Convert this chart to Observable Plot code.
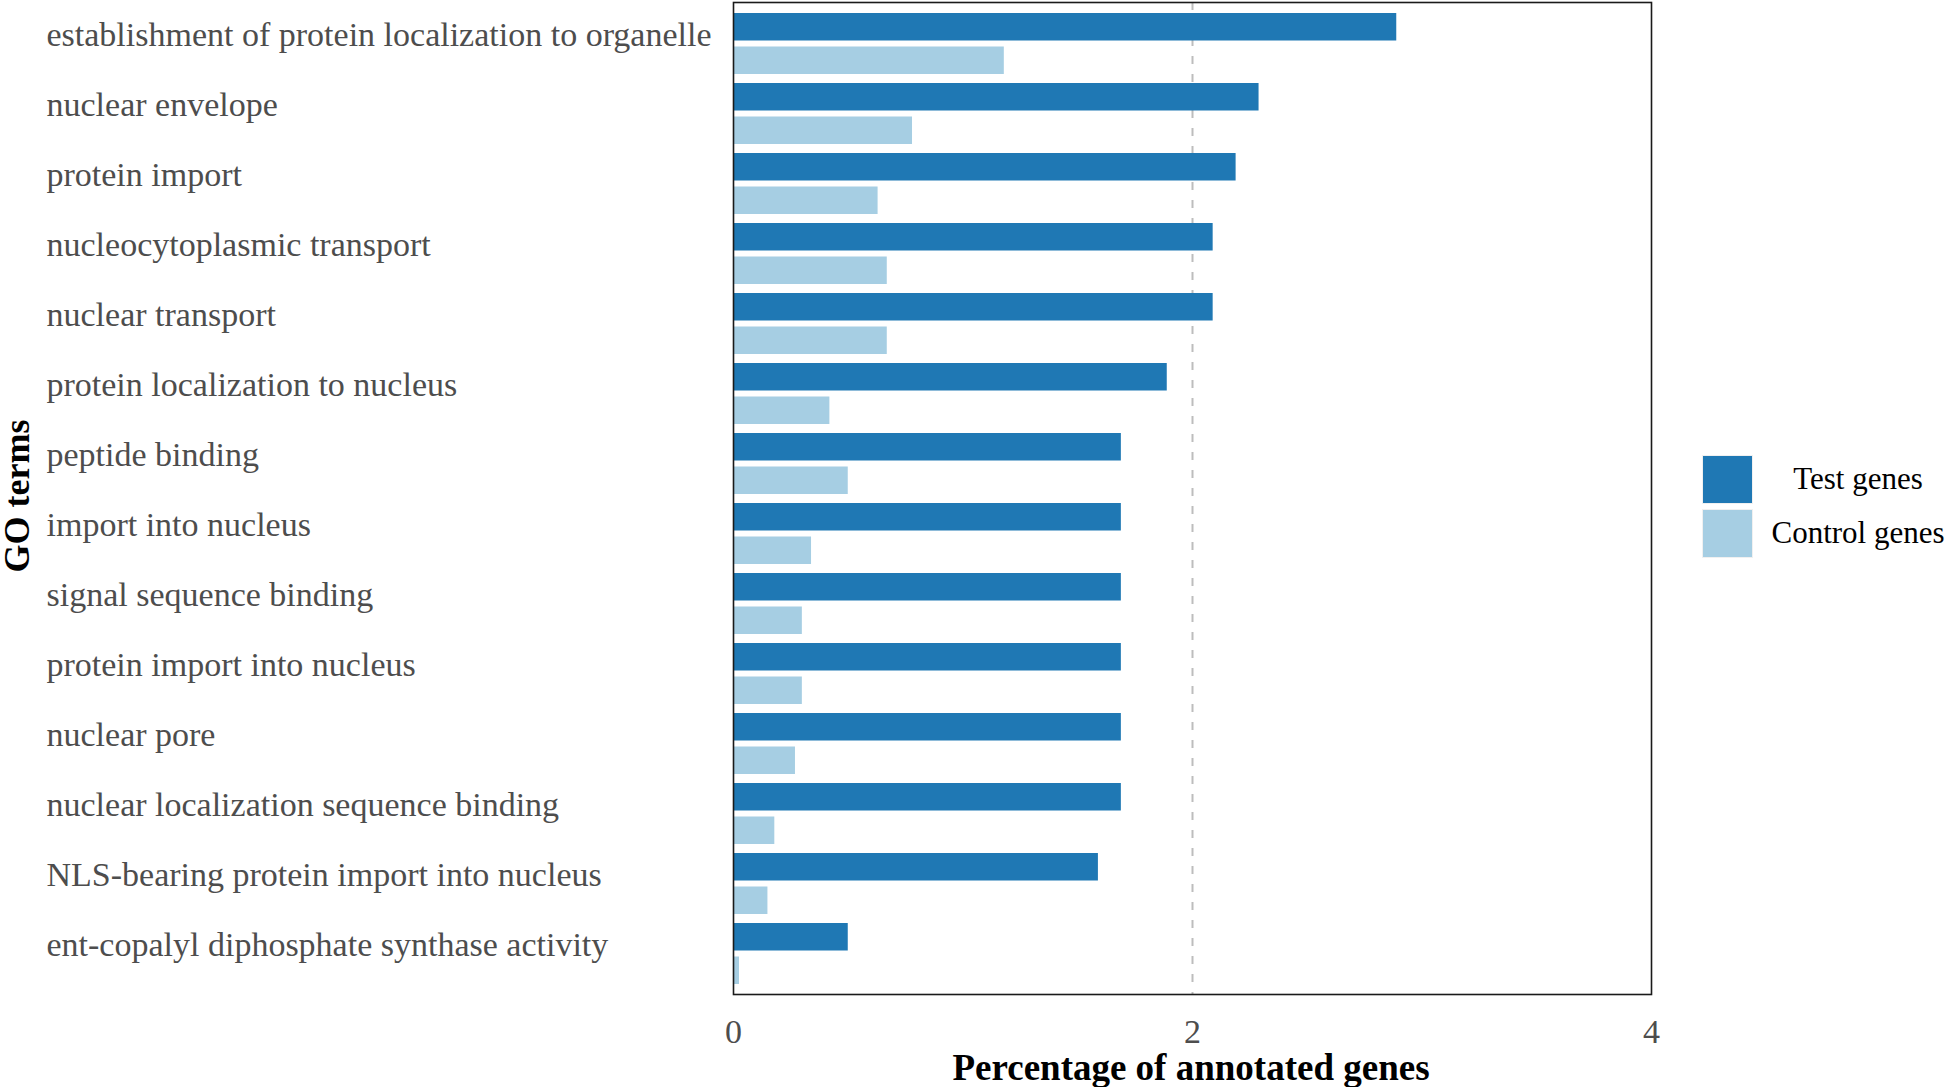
<!DOCTYPE html>
<html>
<head>
<meta charset="utf-8">
<script src="https://cdn.jsdelivr.net/npm/d3@7"></script>
<script src="https://cdn.jsdelivr.net/npm/@observablehq/plot@0.6"></script>
<style>
  html, body { margin: 0; padding: 0; background: #fff; overflow: hidden; }
  #wrap { position: relative; width: 1946px; height: 1087px; font-family: "Liberation Serif", "Times New Roman", serif; }
  #chart svg { display: block; }
  .ytitle { position: absolute; left: 17px; top: 496px; transform: translate(-50%, -50%) rotate(-90deg); font-weight: bold; font-size: 36px; line-height: 1; color: #000; white-space: nowrap; }
  .xtitle { position: absolute; left: 1191px; top: 1049px; transform: translateX(-50%); font-weight: bold; font-size: 37px; color: #000; white-space: nowrap; line-height: 1; }
  .legend { position: absolute; left: 1702px; top: 452px; }
  .legend .row { display: flex; align-items: center; height: 54px; }
  .legend .sw { width: 51px; height: 49px; box-sizing: border-box; border: 1px solid #f0f0f0; }
  .legend .lab { width: 210px; text-align: center; font-size: 31px; color: #000; }
</style>
</head>
<body>
<div id="wrap">
  <div id="chart"></div>
  <div class="ytitle">GO terms</div>
  <div class="xtitle">Percentage of annotated genes</div>
  <div class="legend" id="legend"></div>
</div>
<script>
const terms = [
  "establishment of protein localization to organelle",
  "nuclear envelope",
  "protein import",
  "nucleocytoplasmic transport",
  "nuclear transport",
  "protein localization to nucleus",
  "peptide binding",
  "import into nucleus",
  "signal sequence binding",
  "protein import into nucleus",
  "nuclear pore",
  "nuclear localization sequence binding",
  "NLS-bearing protein import into nucleus",
  "ent-copalyl diphosphate synthase activity"
];
const testValues =    [2.89, 2.29, 2.19, 2.09, 2.09, 1.89, 1.69, 1.69, 1.69, 1.69, 1.69, 1.69, 1.59, 0.50];
const controlValues = [1.18, 0.78, 0.63, 0.67, 0.67, 0.42, 0.50, 0.34, 0.30, 0.30, 0.27, 0.18, 0.15, 0.026];
const seriesNames = ["Test genes", "Control genes"];
const seriesColors = ["#1f78b4", "#a6cee3"];
const xTicks = [0, 2, 4];
const xTickLabels = ["0", "2", "4"];
const referenceLine = [2];

const testData = terms.map((t, i) => ({term: t, series: seriesNames[0], value: testValues[i]}));
const controlData = terms.map((t, i) => ({term: t, series: seriesNames[1], value: controlValues[i]}));

const serif = "Liberation Serif, Times New Roman, serif";

const chart = Plot.plot({
  width: 1946,
  height: 1087,
  marginLeft: 733,
  marginRight: 295,
  marginTop: 2,
  marginBottom: 93,
  style: {fontFamily: serif, background: "#fff"},
  x: {domain: [0, 4], label: null},
  y: {domain: terms, paddingInner: 0.13, paddingOuter: 0.14, label: null},
  color: {domain: seriesNames, range: seriesColors},
  marks: [
    Plot.ruleX(referenceLine, {stroke: "#bdbdbd", strokeWidth: 2, strokeDasharray: "8,10"}),
    Plot.barX(testData, {x: "value", y: "term", fill: "series", insetBottom: 33.5}),
    Plot.barX(controlData, {x: "value", y: "term", fill: "series", insetTop: 33.5}),
    Plot.frame({stroke: "#1a1a1a", strokeWidth: 1.6}),
    Plot.axisY({tickSize: 0, tickPadding: 0, textAnchor: "start", dx: -687, dy: -9, fontSize: 34, fill: "#4d4d4d", label: null}),
    Plot.axisX({ticks: xTicks, tickFormat: (d) => xTickLabels[xTicks.indexOf(d)], tickSize: 0, tickPadding: 24, fontSize: 34, fill: "#4d4d4d", label: null})
  ]
});
document.getElementById("chart").appendChild(chart);

const legend = document.getElementById("legend");
seriesNames.forEach((name, i) => {
  const row = document.createElement("div");
  row.className = "row";
  const sw = document.createElement("div");
  sw.className = "sw";
  sw.style.background = seriesColors[i];
  const lab = document.createElement("div");
  lab.className = "lab";
  lab.textContent = name;
  row.appendChild(sw);
  row.appendChild(lab);
  legend.appendChild(row);
});
</script>
</body>
</html>
